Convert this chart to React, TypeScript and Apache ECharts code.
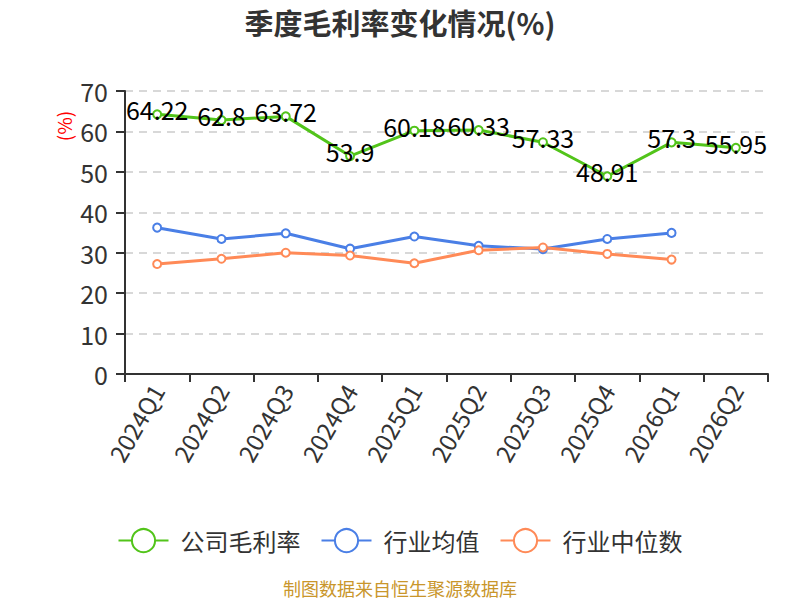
import React, { useEffect, useRef } from "react";
import * as echarts from "echarts";

const categories = ["2024Q1", "2024Q2", "2024Q3", "2024Q4", "2025Q1", "2025Q2", "2025Q3", "2025Q4", "2026Q1", "2026Q2"];
const companyMargin = [64.22, 62.8, 63.72, 53.9, 60.18, 60.33, 57.33, 48.91, 57.3, 55.95];
const industryAvg = [36.2, 33.4, 34.8, 31.0, 34.0, 31.7, 30.9, 33.4, 34.9, null];
const industryMedian = [27.2, 28.5, 30.0, 29.3, 27.4, 30.6, 31.3, 29.7, 28.3, null];
const seriesNames = ["公司毛利率", "行业均值", "行业中位数"];
const colors = ["#52c41a", "#4a7fe6", "#ff8a57"];

const FONT = "'Noto Sans CJK SC', 'Noto Sans', sans-serif";

export default function App() {
  const ref = useRef<HTMLDivElement>(null);
  useEffect(() => {
    document.body.style.margin = "0";
    if (!ref.current) return;
    const chart = echarts.init(ref.current, null, { renderer: "svg" });
    const mk = (name: string, data: (number | null)[], color: string, showLabel: boolean) => ({
      name,
      type: "line",
      data,
      symbol: "emptyCircle",
      symbolSize: 8,
      itemStyle: { color, borderWidth: 2 },
      lineStyle: { color, width: 3 },
      label: showLabel
        ? { show: true, position: "inside", offset: [0, -5], color: "#000", fontSize: 25, fontFamily: FONT }
        : { show: false },
      z: showLabel ? 3 : 2,
    });
    chart.setOption({
      animation: false,
      color: colors,
      textStyle: { fontFamily: FONT },
      title: {
        text: "季度毛利率变化情况(%)",
        left: "center",
        top: 2,
        textStyle: { fontSize: 29, fontWeight: "bold", color: "#333", fontFamily: FONT },
      },
      grid: { left: 125, right: 32, top: 91, bottom: 226, containLabel: false },
      xAxis: {
        type: "category",
        data: categories,
        boundaryGap: true,
        axisLine: { show: true, lineStyle: { color: "#333", width: 2 } },
        axisTick: { show: true, length: 8, lineStyle: { color: "#333", width: 2 } },
        axisLabel: { rotate: 60, fontSize: 24, color: "#333", margin: 12, fontFamily: FONT },
      },
      yAxis: {
        type: "value",
        min: 0,
        max: 70,
        interval: 10,
        axisLine: { show: true, lineStyle: { color: "#333", width: 2 } },
        axisTick: { show: true, length: 9, lineStyle: { color: "#333", width: 2 } },
        axisLabel: { fontSize: 25, color: "#333", margin: 17, fontFamily: FONT },
        splitLine: { show: true, lineStyle: { color: "#ccc", type: [8, 6], width: 1.5 } },
      },
      legend: {
        data: seriesNames,
        top: 523,
        left: "center",
        itemWidth: 50,
        itemHeight: 29,
        itemGap: 20,
        textStyle: { fontSize: 24, color: "#333", fontFamily: FONT, padding: [0, 0, 0, 7] },
      },
      graphic: [
        {
          type: "text",
          x: 63,
          y: 126,
          rotation: Math.PI / 2,
          style: {
            text: "(%)",
            fill: "#ff0000",
            fontSize: 19,
            fontFamily: FONT,
            textAlign: "center",
            textVerticalAlign: "middle",
          },
        },
        {
          type: "text",
          x: 400,
          y: 588,
          style: {
            text: "制图数据来自恒生聚源数据库",
            fill: "#c9962b",
            fontSize: 18,
            fontFamily: FONT,
            textAlign: "center",
            textVerticalAlign: "middle",
          },
        },
      ],
      series: [
        mk(seriesNames[0], companyMargin, colors[0], true),
        mk(seriesNames[1], industryAvg, colors[1], false),
        mk(seriesNames[2], industryMedian, colors[2], false),
      ],
    });
    return () => chart.dispose();
  }, []);
  return <div ref={ref} style={{ width: 800, height: 600 }} />;
}
